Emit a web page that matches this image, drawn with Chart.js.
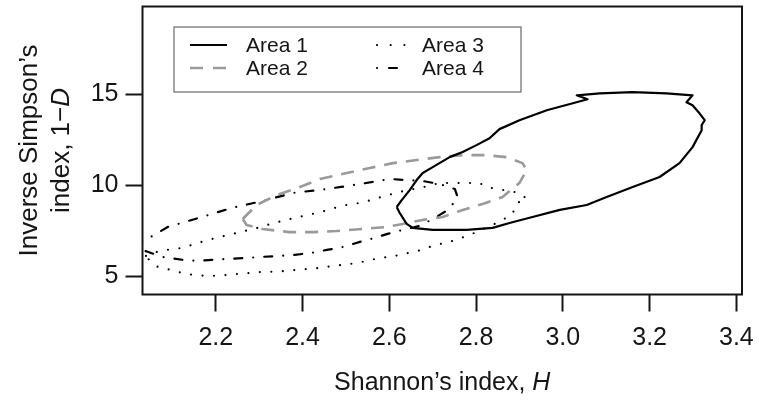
<!DOCTYPE html>
<html>
<head>
<meta charset="utf-8">
<script src="https://cdn.jsdelivr.net/npm/chart.js@4/dist/chart.umd.min.js"></script>
<style>
  body { margin: 0; background: #fff; }
  canvas { display: block; }
</style>
</head>
<body>
<canvas id="chart" width="759" height="402"></canvas>
<script>
// contour outlines, Shannon's H (x) and inverse Simpson 1-D (y)
const area1H = [2.617, 2.629, 2.647, 2.663, 2.677, 2.700, 2.739, 2.769, 2.801, 2.831, 2.854, 2.900, 2.963, 3.023, 3.057, 3.032, 3.085, 3.161, 3.239, 3.299, 3.285, 3.299, 3.315, 3.327, 3.320, 3.320, 3.299, 3.269, 3.223, 3.161, 3.101, 3.055, 2.993, 2.930, 2.877, 2.838, 2.778, 2.700, 2.654, 2.640, 2.624, 2.617];
const area1D = [8.82, 9.21, 9.75, 10.30, 10.69, 11.01, 11.56, 11.84, 12.22, 12.60, 13.10, 13.59, 14.14, 14.52, 14.74, 14.96, 15.07, 15.13, 15.07, 14.96, 14.58, 14.41, 13.97, 13.59, 13.32, 13.04, 12.11, 11.23, 10.47, 9.92, 9.37, 8.93, 8.66, 8.27, 7.94, 7.67, 7.56, 7.56, 7.67, 7.89, 8.49, 8.82];

const area2H = [2.262, 2.294, 2.341, 2.394, 2.440, 2.502, 2.555, 2.608, 2.663, 2.716, 2.769, 2.824, 2.870, 2.907, 2.917, 2.900, 2.861, 2.815, 2.769, 2.723, 2.677, 2.631, 2.594, 2.539, 2.479, 2.424, 2.370, 2.308, 2.271, 2.262];
const area2D = [8.16, 8.93, 9.48, 9.92, 10.36, 10.69, 10.96, 11.23, 11.40, 11.56, 11.67, 11.67, 11.56, 11.23, 10.85, 10.14, 9.37, 8.98, 8.66, 8.27, 8.11, 7.89, 7.72, 7.61, 7.50, 7.44, 7.44, 7.61, 7.83, 8.16];

const area3H = [2.039, 2.071, 2.122, 2.175, 2.202, 2.255, 2.301, 2.331, 2.387, 2.440, 2.493, 2.539, 2.594, 2.642, 2.670, 2.716, 2.755, 2.785, 2.808, 2.824, 2.847, 2.877, 2.900, 2.917, 2.894, 2.884, 2.861, 2.838, 2.785, 2.739, 2.709, 2.686, 2.659, 2.631, 2.606, 2.578, 2.550, 2.525, 2.497, 2.470, 2.444, 2.417, 2.389, 2.364, 2.336, 2.308, 2.283, 2.255, 2.228, 2.202, 2.175, 2.147, 2.122, 2.094, 2.066, 2.048, 2.039];
const area3D = [6.13, 6.41, 6.57, 6.96, 7.13, 7.43, 7.70, 7.92, 8.25, 8.53, 8.90, 9.07, 9.46, 9.75, 9.86, 10.14, 10.14, 10.14, 10.14, 9.92, 9.81, 9.70, 9.59, 9.26, 9.04, 8.44, 8.11, 7.83, 7.28, 6.90, 6.74, 6.57, 6.35, 6.24, 6.08, 6.03, 5.86, 5.75, 5.64, 5.59, 5.48, 5.42, 5.37, 5.31, 5.26, 5.26, 5.20, 5.15, 5.09, 5.04, 5.04, 5.09, 5.20, 5.37, 5.53, 5.86, 6.13];

const area4H = [2.013, 2.032, 2.089, 2.168, 2.237, 2.308, 2.377, 2.456, 2.532, 2.601, 2.640, 2.677, 2.716, 2.751, 2.758, 2.735, 2.705, 2.670, 2.631, 2.596, 2.566, 2.532, 2.493, 2.456, 2.421, 2.382, 2.347, 2.308, 2.271, 2.232, 2.193, 2.156, 2.122, 2.076, 2.043, 2.020, 2.013];
const area4D = [6.74, 6.92, 7.72, 8.27, 8.77, 9.15, 9.59, 9.81, 10.08, 10.36, 10.30, 10.25, 10.08, 9.81, 9.32, 8.66, 8.22, 7.78, 7.56, 7.34, 7.12, 6.90, 6.62, 6.46, 6.30, 6.19, 6.13, 6.08, 6.02, 5.97, 5.92, 5.86, 5.92, 6.08, 6.36, 6.52, 6.74];

const areaNames = ["Area 1", "Area 2", "Area 3", "Area 4"];
const xTicks = [2.2, 2.4, 2.6, 2.8, 3.0, 3.2, 3.4];
const yTicks = [5, 10, 15];

const FONT = "'Liberation Sans', Arial, Helvetica, sans-serif";
const INK = "#151515";

function pts(hs, ds) {
  return hs.map((h, i) => ({ x: h, y: ds[i] }));
}

const styles = [
  { color: "#000000", width: 2.2, dash: [], cap: "butt", key: [] },
  { color: "#9a9a9a", width: 2.6, dash: [13, 9], cap: "butt", key: [13, 10] },
  { color: "#000000", width: 2.2, dash: [0, 11.5], cap: "round", key: [0, 13.7] },
  { color: "#000000", width: 2.2, dash: [8, 11, 0, 11], cap: "round", key: [0, 12, 8, 12] },
];

const series = [pts(area1H, area1D), pts(area2H, area2D), pts(area3H, area3D), pts(area4H, area4D)];

// box, axis titles and legend drawn by hand (R style)
const frame = {
  id: "frame",
  afterDatasetsDraw(chart) {
    const { ctx, chartArea: a } = chart;
    ctx.save();
    ctx.strokeStyle = INK;
    ctx.lineWidth = 2;
    ctx.strokeRect(a.left, a.top, a.right - a.left, a.bottom - a.top);

    // legend
    ctx.lineWidth = 1.2;
    ctx.strokeStyle = "#6a6a6a";
    ctx.strokeRect(174, 27, 347, 65);
    const cols = [{ x1: 190, x2: 227, tx: 246 }, { x1: 377, x2: 406, tx: 422 }];
    const rows = [45, 68];
    ctx.font = "21px " + FONT;
    ctx.textBaseline = "middle";
    ctx.textAlign = "left";
    areaNames.forEach((name, i) => {
      const c = cols[Math.floor(i / 2)];
      const y = rows[i % 2];
      const s = styles[i];
      ctx.strokeStyle = s.color;
      ctx.lineWidth = s.width;
      ctx.lineCap = s.cap;
      ctx.setLineDash(s.key);
      ctx.beginPath();
      ctx.moveTo(c.x1, y);
      ctx.lineTo(c.x2, y);
      ctx.stroke();
      ctx.setLineDash([]);
      ctx.fillStyle = INK;
      ctx.fillText(name, c.tx, y + 1);
    });

    // x title: Shannon's index, H
    ctx.fillStyle = INK;
    ctx.textBaseline = "middle";
    const cx = (a.left + a.right) / 2;
    const p1 = "Shannon\u2019s index, ";
    ctx.font = "25px " + FONT;
    const w1 = ctx.measureText(p1).width;
    ctx.font = "italic 25px " + FONT;
    const w2 = ctx.measureText("H").width;
    const x0 = cx - (w1 + w2) / 2;
    ctx.font = "25px " + FONT;
    ctx.textAlign = "left";
    ctx.fillText(p1, x0, 383);
    ctx.font = "italic 25px " + FONT;
    ctx.fillText("H", x0 + w1, 383);

    // y title, two lines
    const cy = (a.top + a.bottom) / 2;
    ctx.save();
    ctx.translate(30, cy);
    ctx.rotate(-Math.PI / 2);
    ctx.font = "26px " + FONT;
    ctx.textAlign = "center";
    ctx.fillText("Inverse Simpson\u2019s", 0, 0);
    ctx.restore();

    ctx.save();
    ctx.translate(62, cy);
    ctx.rotate(-Math.PI / 2);
    const q1 = "index, 1\u2212";
    ctx.font = "26px " + FONT;
    const v1 = ctx.measureText(q1).width;
    ctx.font = "italic 26px " + FONT;
    const v2 = ctx.measureText("D").width;
    ctx.textAlign = "left";
    ctx.font = "26px " + FONT;
    ctx.fillText(q1, -(v1 + v2) / 2, 0);
    ctx.font = "italic 26px " + FONT;
    ctx.fillText("D", -(v1 + v2) / 2 + v1, 0);
    ctx.restore();

    ctx.restore();
  },
};

new Chart(document.getElementById("chart"), {
  type: "scatter",
  data: {
    datasets: series.map((d, i) => ({
      label: areaNames[i],
      data: d,
      showLine: true,
      fill: false,
      tension: 0,
      pointRadius: 0,
      borderColor: styles[i].color,
      borderWidth: styles[i].width,
      borderDash: styles[i].dash,
      borderCapStyle: styles[i].cap,
      borderJoinStyle: "round",
    })),
  },
  options: {
    responsive: false,
    animation: false,
    devicePixelRatio: 1,
    layout: { padding: { left: 0, top: 6.5, right: 17, bottom: 0 } },
    plugins: { legend: { display: false }, tooltip: { enabled: false } },
    scales: {
      x: {
        type: "linear",
        min: 2.031,
        max: 3.413,
        afterBuildTicks: (s) => { s.ticks = xTicks.map((v) => ({ value: v })); },
        afterFit: (s) => {
          s.height = 107.5;
          s.paddingLeft = 0;
          s.paddingRight = 0;
        },
        grid: { drawOnChartArea: false, drawTicks: true, tickLength: 17, tickWidth: 2, tickColor: INK },
        border: { display: false },
        ticks: {
          padding: 12,
          color: INK,
          font: { family: FONT, size: 25 },
          callback: (v) => Number(v).toFixed(1),
        },
      },
      y: {
        type: "linear",
        min: 4.01,
        max: 19.84,
        afterBuildTicks: (s) => { s.ticks = yTicks.map((v) => ({ value: v })); },
        afterFit: (s) => {
          s.width = 142.5;
          s.paddingTop = 0;
          s.paddingBottom = 0;
        },
        grid: { drawOnChartArea: false, drawTicks: true, tickLength: 17, tickWidth: 2, tickColor: INK },
        border: { display: false },
        ticks: {
          padding: 7,
          color: INK,
          font: { family: FONT, size: 25 },
          callback: (v) => String(v),
        },
      },
    },
  },
  plugins: [frame],
});
</script>
</body>
</html>
